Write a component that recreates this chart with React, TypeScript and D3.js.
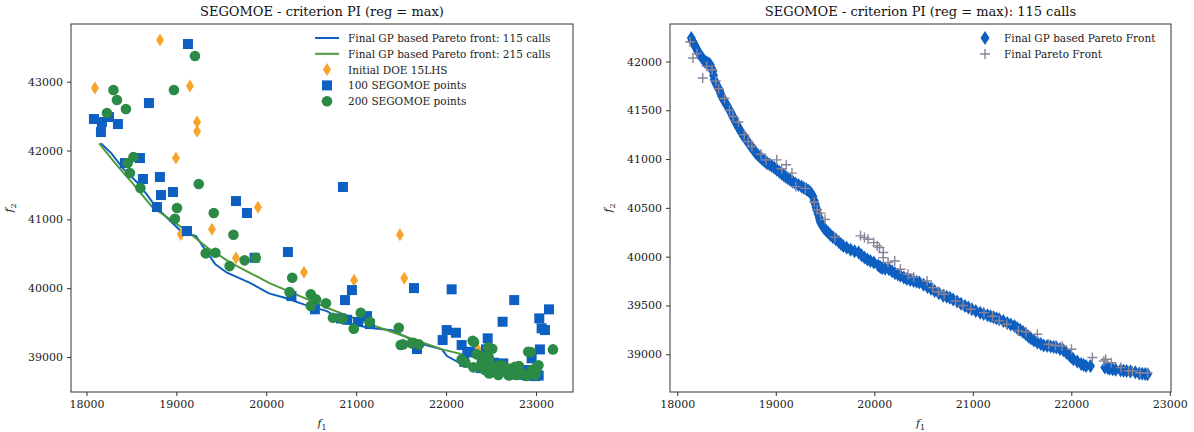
import React, { useEffect, useRef } from "react";
import * as d3 from "d3";

// ---- left panel data ----
const leftXTicks = [18000, 19000, 20000, 21000, 22000, 23000];
const leftYTicks = [39000, 40000, 41000, 42000, 43000];

const front115 = [
  [18159, 42105], [18278, 41959], [18406, 41741], [18556, 41547], [18662, 41378],
  [18771, 41183], [19049, 40830], [19218, 40757], [19369, 40467], [19434, 40346],
  [19563, 40224], [19819, 40078], [20030, 39924], [20204, 39860], [20417, 39764],
  [20675, 39667], [20886, 39497], [21142, 39424], [21398, 39387], [21573, 39279],
  [21743, 39183], [21954, 39110], [22010, 39013], [22215, 38868], [22471, 38820],
  [22771, 38770],
];

const front215 = [
  [18141, 42105], [18321, 41814], [18514, 41523], [18729, 41183], [19091, 40855],
  [19348, 40587], [19605, 40369], [20030, 40078], [20375, 39885], [20675, 39715],
  [21102, 39497], [21529, 39304], [21958, 39110], [22255, 39013], [22600, 38916],
  [22855, 38858],
];

const doePoints = [
  [18818, 43607], [18094, 42908], [19151, 42937], [19230, 42413], [19230, 42282],
  [18995, 41890], [19908, 41175], [19396, 40855], [19050, 40780], [19663, 40440],
  [20419, 40230], [20976, 40114], [21487, 40775], [21535, 40145], [22352, 39112],
];

const seg100Points = [
  [18083, 42458], [18172, 42414], [18250, 42487], [18350, 42385], [18161, 42269],
  [18695, 42690], [19129, 43548], [18428, 41818], [18595, 41891], [18628, 41586],
  [18817, 41615], [18962, 41397], [18829, 41353], [18784, 41179], [19663, 41266],
  [19785, 41092], [20853, 41470], [19118, 40830], [19870, 40442], [20241, 40525],
  [20280, 39885], [20876, 39827], [20953, 39972], [21120, 39594], [21153, 39478],
  [21676, 39115], [21643, 40001], [22062, 39983], [22007, 39391], [22110, 39352],
  [21962, 39246], [22173, 39173], [22236, 39076], [22463, 39271], [22444, 39110],
  [22636, 38907], [22758, 39827], [22629, 39512], [23145, 39692], [23037, 39561],
  [23063, 39416], [23044, 39110], [22952, 38980], [22896, 38810], [23008, 38762],
  [22202, 38930], [22388, 38838], [22855, 38795], [22989, 38722], [23100, 39391],
  [22266, 39071], [22533, 38916], [20541, 39693], [20830, 39560], [20900, 39540],
  [21020, 39510], [22560, 38780], [22700, 38760], [22800, 38740], [22900, 38730],
  [23030, 38730], [22480, 38800], [22620, 38800], [22760, 38790],
];

const seg200Points = [
  [18300, 42879], [18339, 42734], [18228, 42545], [18439, 42603], [18973, 42879],
  [19207, 43373], [18523, 41906], [18458, 41818], [18484, 41673], [18600, 41455],
  [19249, 41513], [19007, 41164], [19416, 41092], [18984, 41009], [19635, 40776],
  [19327, 40506], [19434, 40515], [19592, 40321], [19759, 40404], [19883, 40442],
  [20289, 40151], [20259, 39943], [20495, 39910], [20553, 39837], [20664, 39779],
  [20495, 39740], [20742, 39570], [20845, 39555], [21051, 39643], [20973, 39410],
  [21153, 39507], [21474, 39424], [21521, 39183], [21637, 39206], [21699, 39183],
  [22215, 38916], [22311, 39217], [22386, 39013], [22514, 39119], [22477, 38988],
  [22942, 39071], [23189, 39110], [23028, 38878], [22600, 38878], [22727, 38820],
  [22811, 38868], [21495, 39173], [21617, 39198], [22296, 39235], [22340, 39038],
  [22444, 39003], [22469, 39140], [22451, 38955], [22173, 38965], [22377, 38858],
  [22544, 38810], [22674, 38770], [22766, 38858], [22785, 38737], [22914, 39075],
  [22952, 38810], [23008, 38858], [22989, 38737], [22896, 38723], [22636, 38873],
  [22581, 38737], [22433, 38810], [22303, 38849], [22489, 38907], [22396, 38916],
  [22480, 38760], [22700, 38730], [22850, 38760], [23000, 38780],
];

// ---- right panel data ----
const rightXTicks = [18000, 19000, 20000, 21000, 22000, 23000];
const rightYTicks = [39000, 39500, 40000, 40500, 41000, 41500, 42000];

const gpFrontPoints = [
  [18142, 42240], [18150, 42215], [18160, 42200], [18172, 42175], [18185, 42150],
  [18195, 42130], [18205, 42110], [18219, 42086], [18235, 42060], [18250, 42040],
  [18265, 42020], [18280, 42000], [18295, 41990], [18310, 41985], [18322, 41975],
  [18335, 41966], [18348, 41930], [18360, 41900], [18368, 41855], [18374, 41812],
  [18388, 41785], [18400, 41760], [18415, 41730], [18430, 41700], [18441, 41670],
  [18451, 41641], [18466, 41615], [18480, 41590], [18495, 41565], [18510, 41540],
  [18528, 41505], [18547, 41471], [18560, 41445], [18570, 41420], [18588, 41385],
  [18605, 41351], [18622, 41320], [18640, 41290], [18655, 41265], [18670, 41240],
  [18686, 41218], [18702, 41197], [18720, 41170], [18740, 41140], [18755, 41120],
  [18770, 41100], [18785, 41080], [18798, 41061], [18820, 41040], [18840, 41020],
  [18860, 41000], [18880, 40985], [18897, 40970], [18914, 40958], [18937, 40944],
  [18960, 40930], [18985, 40910], [19010, 40890], [19035, 40870], [19060, 40850],
  [19080, 40835], [19100, 40820], [19122, 40803], [19145, 40787], [19172, 40768],
  [19200, 40750], [19230, 40734], [19261, 40718], [19285, 40704], [19310, 40690],
  [19330, 40675], [19350, 40660], [19365, 40640], [19377, 40616], [19390, 40575],
  [19400, 40540], [19408, 40510], [19415, 40479], [19428, 40440], [19440, 40400],
  [19447, 40375], [19454, 40349], [19472, 40318], [19490, 40290], [19510, 40268],
  [19531, 40247], [19555, 40222], [19580, 40200], [19610, 40175], [19640, 40150],
  [19662, 40130], [19685, 40110], [19720, 40090], [19760, 40070], [19800, 40056],
  [19841, 40042], [19870, 40015], [19900, 39990], [19930, 39972], [19960, 39955],
  [19995, 39939], [20040, 39910], [20060, 39895], [20080, 39880], [20110, 39876],
  [20149, 39871], [20180, 39850], [20210, 39830], [20240, 39816], [20265, 39803],
  [20300, 39786], [20330, 39770], [20365, 39760], [20400, 39750], [20430, 39742],
  [20458, 39734], [20500, 39712], [20540, 39690], [20575, 39670], [20612, 39649],
  [20655, 39625], [20700, 39600], [20735, 39590], [20767, 39580], [20800, 39562],
  [20840, 39540], [20880, 39518], [20921, 39495], [20955, 39478], [20990, 39460],
  [21030, 39443], [21075, 39426], [21110, 39413], [21150, 39400], [21180, 39390],
  [21210, 39380], [21240, 39370], [21268, 39359], [21310, 39340], [21350, 39320],
  [21385, 39305], [21422, 39290], [21450, 39270], [21480, 39250], [21510, 39228],
  [21539, 39205], [21565, 39183], [21590, 39160], [21620, 39140], [21655, 39119],
  [21690, 39104], [21720, 39090], [21755, 39085], [21790, 39080], [21820, 39074],
  [21848, 39068], [21885, 39054], [21920, 39040], [21950, 39015], [21980, 38990],
  [22000, 38970], [22021, 38949], [22060, 38925], [22100, 38900], [22125, 38890],
  [22150, 38880], [22195, 38880], [22340, 38865], [22370, 38858], [22388, 38852],
  [22420, 38846], [22450, 38840], [22500, 38835], [22530, 38832], [22561, 38829],
  [22600, 38822], [22650, 38815], [22690, 38802], [22720, 38800], [22750, 38797],
  [22774, 38795],
];

const paretoPoints = [
  [18130, 42200], [18159, 42035], [18200, 42080], [18258, 41830], [18300, 41950],
  [18354, 41915], [18420, 41720], [18480, 41620], [18565, 41436], [18620, 41380],
  [18680, 41250], [18758, 41128], [18850, 41050], [19010, 40992], [19106, 40941],
  [19164, 40856], [19203, 40718], [19300, 40700], [19454, 40446], [19500, 40380],
  [19600, 40200], [19860, 40213], [19936, 40179], [19995, 40144], [20053, 40093],
  [20091, 40042], [20091, 39990], [20207, 39956], [20265, 39871], [20342, 39820],
  [20535, 39751], [20593, 39683], [20709, 39615], [20825, 39546], [20979, 39461],
  [21114, 39426], [21268, 39342], [21345, 39307], [21462, 39239], [21655, 39205],
  [21771, 39102], [21906, 39085], [22002, 39051], [22214, 38966], [22349, 38949],
  [22407, 38914], [22503, 38863], [22581, 38829], [22697, 38811], [22774, 38811],
  [18390, 41800], [18530, 41500], [18720, 41180], [18900, 40990], [19060, 40900],
  [19390, 40560], [19420, 40480], [19900, 40195], [20030, 40110], [20140, 39940],
  [20400, 39790], [20650, 39640], [20900, 39500], [21200, 39390], [21540, 39230],
  [21840, 39090], [22330, 38930], [22620, 38830],
];

const BLUE = "#0d5fc2";
const GREEN = "#2b8a45";
const ORANGE = "#f7a42a";
const GREY = "#8b8496";
const FONT = "DejaVu Serif, serif";

const diamondPath = (w, h) => `M0,${-h / 2}L${w / 2},0L0,${h / 2}L${-w / 2},0Z`;

function drawFrame(g, x, y, xTicks, yTicks, box) {
  const { left, right, top, bottom } = box;
  const xa = g.append("g").attr("transform", `translate(0,${bottom})`)
    .call(d3.axisBottom(x).tickValues(xTicks).tickSize(4).tickPadding(4).tickFormat(d3.format("d")));
  const ya = g.append("g").attr("transform", `translate(${left},0)`)
    .call(d3.axisLeft(y).tickValues(yTicks).tickSize(4).tickPadding(4).tickFormat(d3.format("d")));
  [xa, ya].forEach((a) => {
    a.select(".domain").remove();
    a.selectAll("line").attr("stroke", "#333");
    a.selectAll("text").attr("fill", "#222").style("font-family", FONT).style("font-size", "11px");
  });
  g.append("rect")
    .attr("x", left).attr("y", top)
    .attr("width", right - left).attr("height", bottom - top)
    .attr("fill", "none").attr("stroke", "#333").attr("stroke-width", 1);
}

function axisLabels(g, cx, cy, box, title) {
  g.append("text").attr("x", cx).attr("y", 16).attr("text-anchor", "middle")
    .style("font-family", FONT).style("font-size", "13px").attr("fill", "#111").text(title);
  const xl = g.append("text").attr("x", cx).attr("y", 427).attr("text-anchor", "middle")
    .style("font-family", FONT).style("font-size", "11px").attr("fill", "#222");
  xl.append("tspan").style("font-style", "italic").text("f");
  xl.append("tspan").attr("dy", 3).style("font-size", "8px").text("1");
  const yl = g.append("text").attr("transform", `translate(${box.left - 50},${cy}) rotate(-90)`)
    .attr("text-anchor", "middle")
    .style("font-family", FONT).style("font-size", "11px").attr("fill", "#222");
  yl.append("tspan").style("font-style", "italic").text("f");
  yl.append("tspan").attr("dy", 3).style("font-size", "8px").text("2");
}

const App = () => {
  const svgRef = useRef(null);

  useEffect(() => {
    const svg = d3.select(svgRef.current);
    svg.selectAll("*").remove();

    // ---------- left panel ----------
    const L = { left: 71, right: 573, top: 24, bottom: 392 };
    const xL = d3.scaleLinear().domain([17828, 23412]).range([L.left, L.right]);
    const yL = d3.scaleLinear().domain([38491, 43839]).range([L.bottom, L.top]);
    const gL = svg.append("g");
    const plotL = gL.append("g");

    const line = (xs, ys) => d3.line().x((d) => xs(d[0])).y((d) => ys(d[1]));

    plotL.append("path").datum(front115).attr("d", line(xL, yL))
      .attr("fill", "none").attr("stroke", BLUE).attr("stroke-width", 2);
    plotL.append("path").datum(front215).attr("d", line(xL, yL))
      .attr("fill", "none").attr("stroke", "#4f9a3c").attr("stroke-width", 2);

    plotL.selectAll(".doe").data(doePoints).enter().append("path")
      .attr("transform", (d) => `translate(${xL(d[0])},${yL(d[1])})`)
      .attr("d", diamondPath(8, 13)).attr("fill", ORANGE);
    plotL.selectAll(".sq").data(seg100Points).enter().append("rect")
      .attr("x", (d) => xL(d[0]) - 5).attr("y", (d) => yL(d[1]) - 5)
      .attr("width", 10).attr("height", 10).attr("fill", BLUE);
    plotL.selectAll(".ci").data(seg200Points).enter().append("circle")
      .attr("cx", (d) => xL(d[0])).attr("cy", (d) => yL(d[1]))
      .attr("r", 5.3).attr("fill", GREEN);

    drawFrame(gL, xL, yL, leftXTicks, leftYTicks, L);
    axisLabels(gL, (L.left + L.right) / 2, (L.top + L.bottom) / 2, { left: 63 }, "SEGOMOE - criterion PI (reg = max)");

    // legend left
    const legL = gL.append("g").style("font-family", FONT).style("font-size", "10.5px");
    const legItems = [
      { label: "Final GP based Pareto front: 115 calls", type: "line", color: BLUE },
      { label: "Final GP based Pareto front: 215 calls", type: "line", color: "#4f9a3c" },
      { label: "Initial DOE 15LHS", type: "diamond", color: ORANGE },
      { label: "100 SEGOMOE points", type: "square", color: BLUE },
      { label: "200 SEGOMOE points", type: "circle", color: GREEN },
    ];
    legItems.forEach((it, i) => {
      const cy = 38 + i * 15.8;
      if (it.type === "line") {
        legL.append("line").attr("x1", 315).attr("x2", 339).attr("y1", cy).attr("y2", cy)
          .attr("stroke", it.color).attr("stroke-width", 2);
      } else if (it.type === "diamond") {
        legL.append("path").attr("transform", `translate(327,${cy})`).attr("d", diamondPath(8, 13)).attr("fill", it.color);
      } else if (it.type === "square") {
        legL.append("rect").attr("x", 322).attr("y", cy - 5).attr("width", 10).attr("height", 10).attr("fill", it.color);
      } else {
        legL.append("circle").attr("cx", 327).attr("cy", cy).attr("r", 5.3).attr("fill", it.color);
      }
      legL.append("text").attr("x", 348).attr("y", cy + 4).attr("fill", "#222").text(it.label);
    });

    // ---------- right panel ----------
    const R = { left: 670, right: 1171, top: 24, bottom: 392 };
    const xR = d3.scaleLinear().domain([17926, 23012]).range([R.left, R.right]);
    const yR = d3.scaleLinear().domain([38613, 42384]).range([R.bottom, R.top]);
    const gR = svg.append("g");

    gR.selectAll(".gd").data(gpFrontPoints).enter().append("path")
      .attr("transform", (d) => `translate(${xR(d[0])},${yR(d[1])})`)
      .attr("d", diamondPath(9, 14)).attr("fill", BLUE);
    gR.selectAll(".pl").data(paretoPoints).enter().append("path")
      .attr("transform", (d) => `translate(${xR(d[0])},${yR(d[1])})`)
      .attr("d", "M-5,0H5M0,-5V5").attr("stroke", GREY).attr("stroke-width", 1.4).attr("fill", "none");

    drawFrame(gR, xR, yR, rightXTicks, rightYTicks, R);
    axisLabels(gR, (R.left + R.right) / 2, (R.top + R.bottom) / 2, { left: 662 }, "SEGOMOE - criterion PI (reg = max): 115 calls");

    const legR = gR.append("g").style("font-family", FONT).style("font-size", "10.5px");
    legR.append("path").attr("transform", "translate(985,38)").attr("d", diamondPath(9, 14)).attr("fill", BLUE);
    legR.append("text").attr("x", 1004).attr("y", 42).attr("fill", "#222").text("Final GP based Pareto Front");
    legR.append("path").attr("transform", "translate(985,54)").attr("d", "M-5,0H5M0,-5V5")
      .attr("stroke", GREY).attr("stroke-width", 1.4);
    legR.append("text").attr("x", 1004).attr("y", 58).attr("fill", "#222").text("Final Pareto Front");
  }, []);

  return (
    <svg
      ref={svgRef}
      width={1194}
      height={432}
      style={{ position: "absolute", left: 0, top: 0, background: "#fff" }}
    />
  );
};

export default App;
